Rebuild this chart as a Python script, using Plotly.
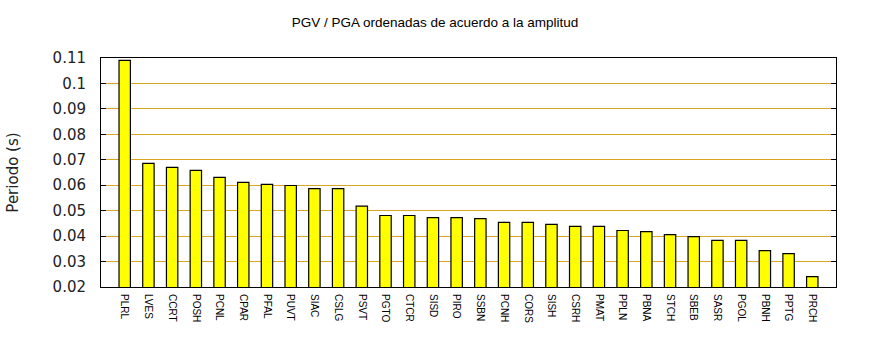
import plotly.graph_objects as go

stations = ["PLRL", "LVES", "CCRT", "POSH", "PCNL", "CPAR", "PFAL", "PUVT", "SIAC", "CSLG",
            "PSVT", "PGTO", "CTCR", "SISD", "PIRO", "SSBN", "PCNH", "CORS", "SISH", "CSRH",
            "PMAT", "PPLN", "PBNA", "STCH", "SBEB", "SASR", "PGOL", "PBNH", "PPTG", "PRCH"]
periodo = [0.1091, 0.0686, 0.0670, 0.0658, 0.0631, 0.0611, 0.0603, 0.0599, 0.0587, 0.0587,
           0.0518, 0.0481, 0.0481, 0.0473, 0.0473, 0.0469, 0.0454, 0.0454, 0.0446, 0.0438,
           0.0438, 0.0422, 0.0418, 0.0406, 0.0398, 0.0383, 0.0383, 0.0343, 0.0331, 0.0241]
ytick_vals = [0.02, 0.03, 0.04, 0.05, 0.06, 0.07, 0.08, 0.09, 0.10, 0.11]
ytick_text = ["0.02", "0.03", "0.04", "0.05", "0.06", "0.07", "0.08", "0.09", "0.1", "0.11"]

fig = go.Figure(go.Bar(
    x=list(range(len(stations))), y=periodo, width=0.48,
    marker=dict(color="#ffff00", line=dict(color="black", width=1.2)),
))

fig.update_layout(
    width=870, height=350,
    margin=dict(l=101, r=34, t=58, b=63),
    paper_bgcolor="white", plot_bgcolor="white",
    showlegend=False,
    title=dict(text="PGV / PGA ordenadas de acuerdo a la amplitud", x=0.5, xanchor="center",
               y=1 - 22 / 350, yanchor="middle",
               font=dict(family="Liberation Sans, Arial", size=13.5, color="black")),
    xaxis=dict(range=[-1, 30], tickmode="array", tickvals=list(range(len(stations))),
               ticktext=stations, tickangle=90, showgrid=False, zeroline=False,
               showline=True, linecolor="black", linewidth=1, mirror=True, ticks="",
               ticklabelstandoff=4,
               tickfont=dict(family="Liberation Sans, Arial", size=10, color="black")),
    yaxis=dict(range=[0.02, 0.11], tickmode="array", tickvals=ytick_vals, ticktext=ytick_text,
               showgrid=True, gridcolor="#daa520", gridwidth=1, zeroline=False,
               showline=True, linecolor="black", linewidth=1, mirror="ticks",
               ticks="inside", ticklen=5, tickcolor="black", ticklabelstandoff=11,
               tickfont=dict(family="DejaVu Sans", size=15, color="#222222"),
               title=dict(text="Periodo (s)", standoff=30,
                          font=dict(family="DejaVu Sans", size=15, color="#222222"))),
)

fig.write_html("out.html")
